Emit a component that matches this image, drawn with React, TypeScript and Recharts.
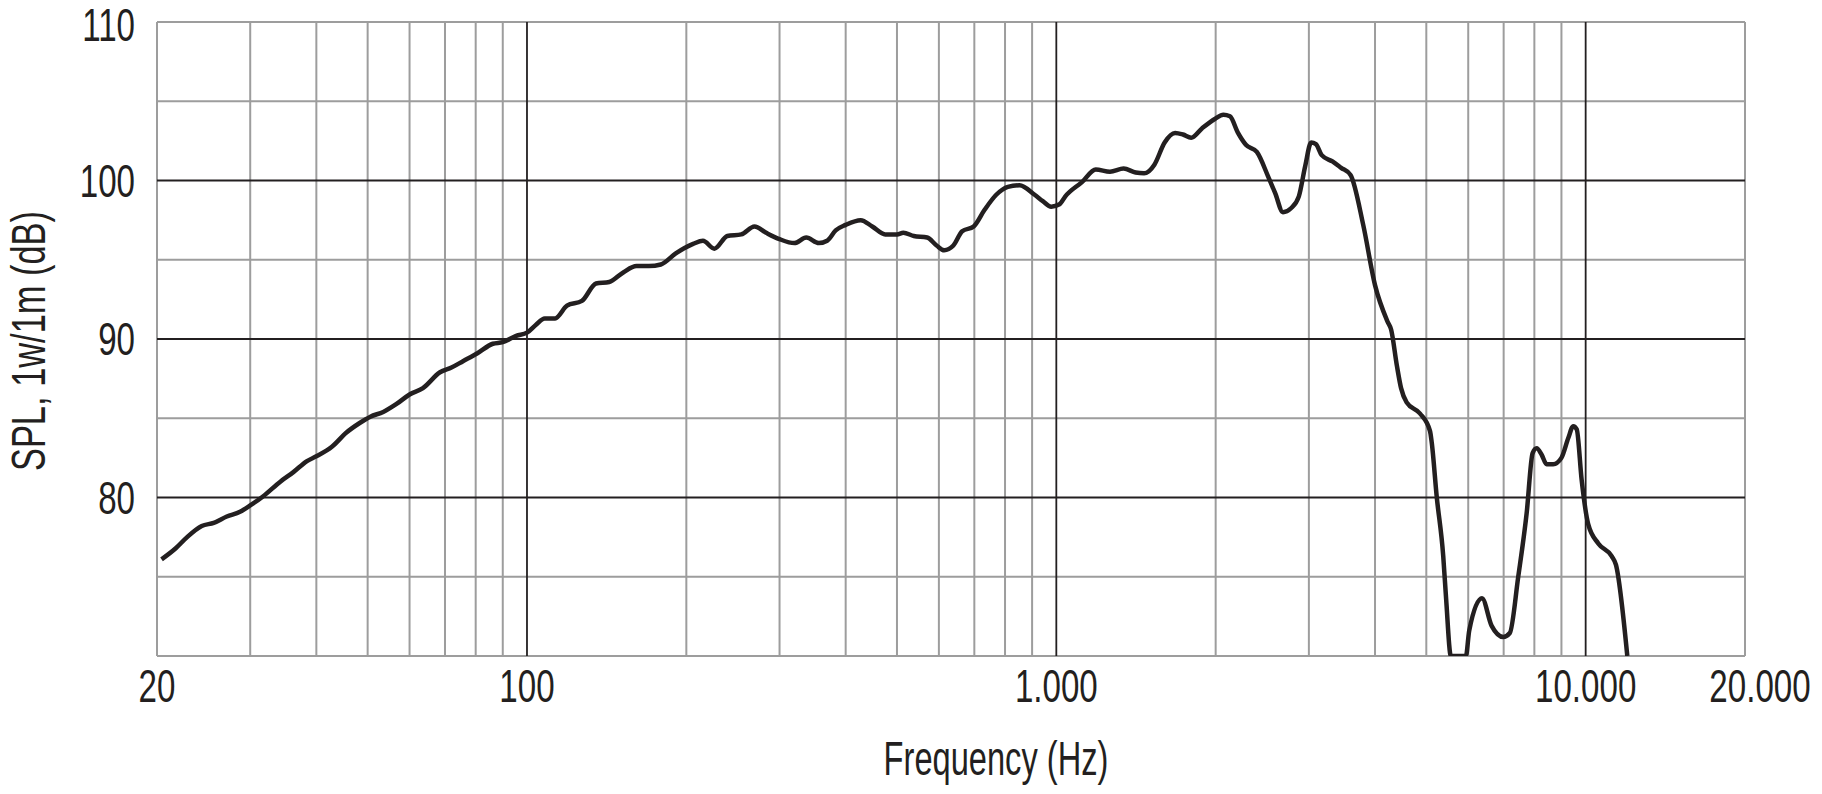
import React from "react";
import { LineChart, Line, XAxis, YAxis, ReferenceLine } from "recharts";

// frequency response (Hz / dB SPL, 1w/1m)
const frequency = [
  20.4, 21.7, 22.8, 24.3, 25.6, 27.1, 28.7, 30, 31.8, 34.2, 36.2, 38.4, 40,
  42.8, 45.6, 48.3, 50.6, 53.5, 56.7, 60, 63.6, 68.5, 72, 75.7, 80.6, 86.2,
  90, 95.4, 100, 104, 108, 113, 119, 127, 135, 143, 152, 161, 170, 179, 191,
  206, 215, 226, 239, 254, 269, 283, 300, 320, 337, 356, 369, 383, 400, 427,
  449, 475, 500, 514, 538, 570, 594, 614, 639, 664, 698, 732, 770, 810, 852,
  910, 943, 978, 1014, 1040, 1118, 1187, 1263, 1340, 1412, 1465, 1532, 1602,
  1676, 1735, 1798, 1886, 1996, 2068, 2128, 2204, 2281, 2392, 2513, 2591,
  2680, 2776, 2872, 2952, 3030, 3093, 3172, 3324, 3452, 3596, 3800, 4000,
  4224, 4290, 4400, 4480, 4590, 4864, 5080, 5118, 5230, 5382, 5450, 5564,
  5940, 6026, 6370, 6644, 6988, 7190, 7458, 7736, 7940, 8080, 8258, 8438,
  8684, 9000, 9272, 9476, 9620, 9828, 10114, 10564, 11198, 11410, 11986,
];
const spl = [
  76.1, 76.8, 77.5, 78.2, 78.4, 78.8, 79.1, 79.5, 80.1, 81.0, 81.6, 82.3, 82.6,
  83.2, 84.1, 84.7, 85.1, 85.4, 85.9, 86.5, 86.9, 87.9, 88.2, 88.6, 89.1, 89.7,
  89.8, 90.2, 90.4, 90.9, 91.3, 91.3, 92.1, 92.4, 93.5, 93.6, 94.2, 94.6, 94.6,
  94.7, 95.4, 96.0, 96.2, 95.7, 96.5, 96.6, 97.1, 96.7, 96.3, 96.05, 96.4,
  96.05, 96.2, 96.85, 97.2, 97.5, 97.1, 96.6, 96.6, 96.7, 96.5, 96.4, 95.9,
  95.6, 95.9, 96.8, 97.1, 98.15, 99.1, 99.6, 99.7, 99.1, 98.7, 98.35, 98.5,
  99.0, 99.9, 100.7, 100.55, 100.75, 100.5, 100.45, 101.0, 102.4, 103.0, 102.9,
  102.7, 103.3, 103.9, 104.15, 104.05, 103.0, 102.25, 101.8, 100.25, 99.2, 98.0,
  98.25, 99.0, 100.9, 102.4, 102.3, 101.6, 101.2, 100.8, 100.35, 97.2, 93.4,
  91.1, 90.6, 88.3, 86.9, 86.0, 85.3, 84.2, 83.5, 80.1, 76.3, 73.6, 70, 70,
  71.6, 73.65, 71.9, 71.2, 71.45, 75.0, 79.0, 82.8, 83.1, 82.7, 82.1, 82.1,
  82.5, 83.75, 84.5, 84.3, 81.1, 78.3, 77.1, 76.3, 75.75, 70,
];

const xLabelTicks = [20, 100, 1000, 10000, 20000];
const yLabelTicks = [80, 90, 100, 110];
const majorFreqLines = [100, 1000, 10000];
const minorFreqLines = [
  20, 30, 40, 50, 60, 70, 80, 90, 200, 300, 400, 500, 600, 700, 800, 900,
  2000, 3000, 4000, 5000, 6000, 7000, 8000, 9000, 20000,
];
const majorLevelLines = [80, 90, 100];
const minorLevelLines = [70, 75, 85, 95, 105, 110];

const data = frequency.map((f, i) => ({ f, spl: spl[i] }));

// no condensed font installed, so Liberation Sans gets squeezed horizontally
const FONT = '"Liberation Sans", Arial, sans-serif';
const INK = "#231f20";
const GRID = "#9d9d9d";

const formatHz = (v: number) =>
  String(v).replace(/\B(?=(\d{3})+(?!\d))/g, ".");

const FreqTick = (props: any) => {
  const { x, y, payload } = props;
  const shift = payload.value === 20000 ? 15 : 0;
  return (
    <text
      transform={`translate(${x + shift},${y}) scale(0.72,1)`}
      dy="0.716em"
      textAnchor="middle"
      fill={INK}
      fontSize={46}
      fontFamily={FONT}
    >
      {formatHz(payload.value)}
    </text>
  );
};

const LevelTick = (props: any) => {
  const { x, y, payload } = props;
  const shift = payload.value === 110 ? 3 : 0;
  return (
    <text
      transform={`translate(${x},${y + shift}) scale(0.72,1)`}
      dy="0.358em"
      textAnchor="end"
      fill={INK}
      fontSize={46}
      fontFamily={FONT}
    >
      {payload.value}
    </text>
  );
};

const App = () => {
  return (
    <div
      style={{
        position: "absolute",
        left: 0,
        top: 0,
        width: 1822,
        height: 794,
        background: "#ffffff",
      }}
    >
      <LineChart
        width={1822}
        height={794}
        data={data}
        margin={{ top: 22, right: 77, bottom: 137, left: 156 }}
      >
        <XAxis
          dataKey="f"
          type="number"
          scale="log"
          domain={[20, 20000]}
          ticks={xLabelTicks}
          height={1}
          axisLine={false}
          tickLine={false}
          tickSize={0}
          tickMargin={13}
          tick={<FreqTick />}
          interval={0}
          allowDataOverflow
          label={{
            content: ({ viewBox }: any) => (
              <text
                transform={`translate(${viewBox.x + viewBox.width / 2 + 45},775) scale(0.68,1)`}
                textAnchor="middle"
                fill={INK}
                fontSize={48}
                fontFamily={FONT}
              >
                Frequency (Hz)
              </text>
            ),
          }}
        />
        <YAxis
          type="number"
          domain={[70, 110]}
          ticks={yLabelTicks}
          width={1}
          axisLine={false}
          tickLine={false}
          tickSize={0}
          tickMargin={22}
          interval={0}
          allowDataOverflow
          tick={<LevelTick />}
          label={{
            content: ({ viewBox }: any) => {
              const cx = viewBox.x - 128;
              const cy = viewBox.y + viewBox.height / 2 + 2;
              return (
                <text
                  transform={`translate(${cx},${cy}) rotate(-90) scale(0.717,1)`}
                  dy="0.358em"
                  textAnchor="middle"
                  fill={INK}
                  fontSize={48}
                  fontFamily={FONT}
                >
                  SPL, 1w/1m (dB)
                </text>
              );
            },
          }}
        />
        {minorFreqLines.map((f) => (
          <ReferenceLine key={`vf${f}`} x={f} stroke={GRID} strokeWidth={2} />
        ))}
        {minorLevelLines.map((v) => (
          <ReferenceLine key={`hl${v}`} y={v} stroke={GRID} strokeWidth={2} />
        ))}
        {majorFreqLines.map((f) => (
          <ReferenceLine key={`vm${f}`} x={f} stroke={INK} strokeWidth={1.8} />
        ))}
        {majorLevelLines.map((v) => (
          <ReferenceLine key={`hm${v}`} y={v} stroke={INK} strokeWidth={1.8} />
        ))}
        <Line
          type="monotone"
          dataKey="spl"
          stroke={INK}
          strokeWidth={4.5}
          dot={false}
          isAnimationActive={false}
        />
      </LineChart>
    </div>
  );
};

export default App;
